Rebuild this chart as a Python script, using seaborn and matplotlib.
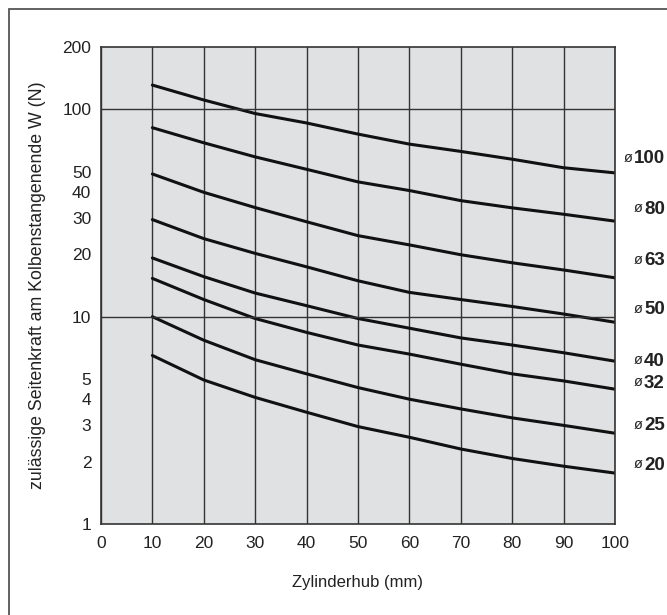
import matplotlib
matplotlib.use("Agg")
import matplotlib.pyplot as plt
import matplotlib.ticker as mticker
from matplotlib.patches import Rectangle
import pandas as pd
import seaborn as sns

# Zylinderhub (mm)
hub = [10, 20, 30, 40, 50, 60, 70, 80, 90, 100]

# zulässige Seitenkraft W (N) je Kolbendurchmesser
w_100 = [131, 111, 95.5, 86, 76, 68, 62.7, 57.5, 52.3, 49.4]
w_80 = [81.6, 69, 59, 51.4, 44.7, 40.6, 36.3, 33.5, 31.2, 28.9]
w_63 = [48.8, 39.8, 33.6, 28.7, 24.6, 22.2, 19.9, 18.2, 16.8, 15.4]
w_50 = [29.4, 23.8, 20.2, 17.4, 14.9, 13.1, 12.1, 11.2, 10.3, 9.4]
w_40 = [19.2, 15.6, 13.0, 11.3, 9.8, 8.8, 7.9, 7.3, 6.7, 6.1]
w_32 = [15.3, 12.1, 9.8, 8.4, 7.3, 6.6, 5.9, 5.3, 4.9, 4.47]
w_25 = [10.0, 7.7, 6.2, 5.3, 4.55, 4.0, 3.59, 3.25, 2.99, 2.74]
w_20 = [6.5, 4.95, 4.08, 3.46, 2.95, 2.62, 2.30, 2.07, 1.9, 1.76]

bores = ["100", "80", "63", "50", "40", "32", "25", "20"]
series = [w_100, w_80, w_63, w_50, w_40, w_32, w_25, w_20]

y_labels = [1, 2, 3, 4, 5, 10, 20, 30, 40, 50, 100, 200]
x_ticks = [0, 10, 20, 30, 40, 50, 60, 70, 80, 90, 100]

rows = []
for bore, vals in zip(bores, series):
    for h, w in zip(hub, vals):
        rows.append({"hub": h, "kraft": w, "bore": bore})
df = pd.DataFrame(rows)

sns.set_style("white")
plt.rcParams["font.family"] = ["Liberation Sans", "DejaVu Sans"]
txt = "#222222"

fig = plt.figure(figsize=(6.67, 6.15), dpi=100)
ax = fig.add_axes([0.1514, 0.148, 0.7706, 0.7756])
ax.set_facecolor("#e0e1e3")

# outer frame of the original page
fig.patches.append(Rectangle((9 / 667, -0.1), 1.2, 1 - 9 / 615 + 0.1,
                             transform=fig.transFigure, fill=False,
                             edgecolor="#555555", lw=1.3))

sns.lineplot(data=df, x="hub", y="kraft", hue="bore", hue_order=bores,
             palette=["#111111"] * len(bores), legend=False, lw=2.2, ax=ax)

ax.set_yscale("log")
ax.set_xlim(0, 100)
ax.set_ylim(1, 200)

# grid
ax.set_xticks(x_ticks)
ax.xaxis.grid(True, color="#333333", lw=1.0)
ax.tick_params(axis="x", length=0, pad=9, labelsize=12.5, labelcolor=txt)
for v in [10, 100]:
    ax.axhline(v, color="#333333", lw=1.0)

# y ticks: long marks at 5 and 50, short marks elsewhere
ax.yaxis.set_major_locator(mticker.FixedLocator([5, 50]))
ax.yaxis.set_minor_locator(mticker.FixedLocator(
    [1, 2, 3, 4, 6, 7, 8, 9, 10, 20, 30, 40, 60, 70, 80, 90, 100, 200]))
fmt = mticker.FuncFormatter(lambda v, p: f"{v:g}" if round(v) in y_labels else "")
ax.yaxis.set_major_formatter(fmt)
ax.yaxis.set_minor_formatter(fmt)
ax.tick_params(axis="y", which="major", direction="in", length=13.7, width=1,
               color="#444444", pad=7, labelsize=12.5, labelcolor=txt)
ax.tick_params(axis="y", which="minor", direction="in", length=10.8, width=1,
               color="#444444", pad=7, labelsize=12.5, labelcolor=txt)

for s in ax.spines.values():
    s.set_visible(True)
    s.set_color("#333333")
    s.set_linewidth(1.2)

ax.set_xlabel("Zylinderhub (mm)", fontsize=12, color=txt, labelpad=17)
ax.set_ylabel("zulässige Seitenkraft am Kolbenstangenende W (N)", fontsize=12.8,
              color=txt, labelpad=12)

# bore labels at the right end of each curve
label_shift = [14, 12, 17, 13, 0, 6, 8, 8]  # px above the curve end
num_texts = []
for bore, vals, sh in zip(bores, series, label_shift):
    yv = vals[-1] * 10 ** (sh / 207.3)
    t = ax.text(1.097, yv, bore, transform=ax.get_yaxis_transform(), ha="right",
                va="center", fontsize=13.5, fontweight="bold", color=txt)
    num_texts.append(t)

fig.canvas.draw()
renderer = fig.canvas.get_renderer()
for t in num_texts:
    bb = t.get_window_extent(renderer)
    ax.annotate("ø", xy=(bb.x0, bb.y0 + bb.height / 2), xycoords="figure pixels",
                xytext=(-1, 0.5), textcoords="offset points", ha="right",
                va="center", fontsize=10.5, color=txt)

fig.savefig("out.png", dpi=100)
